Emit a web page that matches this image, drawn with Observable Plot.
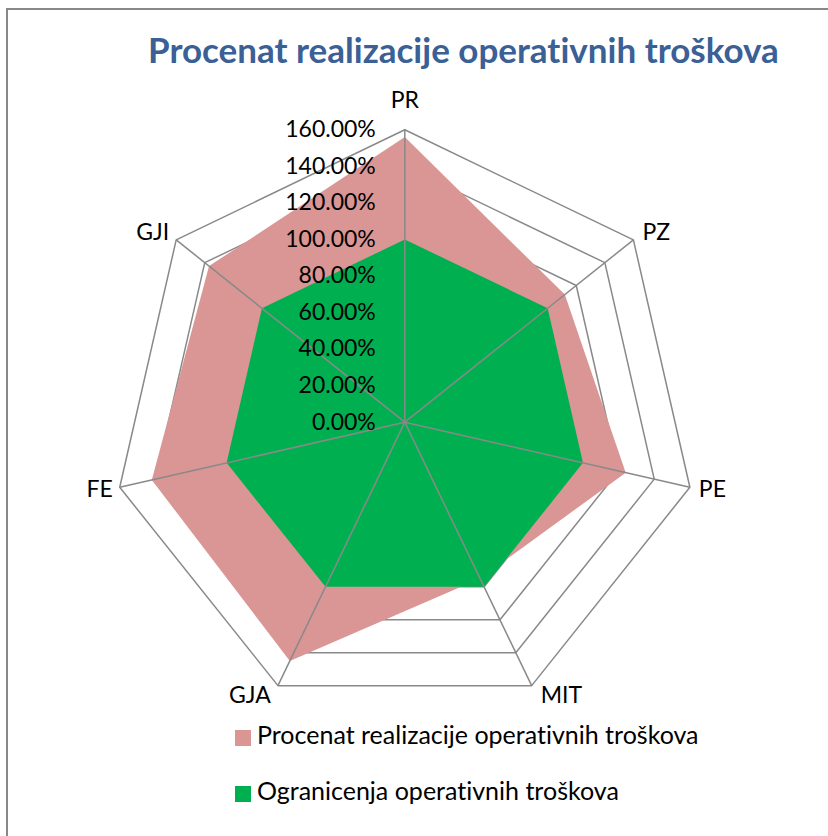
<!DOCTYPE html>
<html>
<head>
<meta charset="utf-8">
<script src="https://cdn.jsdelivr.net/npm/d3@7"></script>
<script src="https://cdn.jsdelivr.net/npm/@observablehq/plot@0.6"></script>
<style>
  html, body { margin: 0; padding: 0; background: #fff; }
  #wrap { position: relative; width: 828px; height: 836px; overflow: hidden; font-family: Lato, "Open Sans", sans-serif; font-variant-ligatures: none; }
  #frame { position: absolute; left: 6px; top: 8px; width: 900px; height: 900px; border-top: 2px solid #888; border-left: 2px solid #888; }
  #chart { position: absolute; left: 0; top: 0; }
  #chart svg text { font-variant-ligatures: none; }
  #title { position: absolute; left: 148px; top: 32px; font-size: 35px; line-height: 1; font-weight: bold; color: #3A6096; white-space: nowrap; }
  .leg { position: absolute; left: 235px; font-size: 25px; line-height: 1; color: #000; white-space: nowrap; }
  .leg span.sw { position: absolute; left: 0; width: 16px; height: 16px; }
  .leg span.tx { position: absolute; left: 22px; }
</style>
</head>
<body>
<div id="wrap">
  <div id="frame"></div>
  <div id="chart"></div>
  <div id="title">Procenat realizacije operativnih troškova</div>
  <div id="legend"></div>
</div>
<script>
// ---- data ----
const categories = ["PR", "PZ", "PE", "MIT", "GJA", "FE", "GJI"];
const realizacija = [156, 112, 124, 95, 145, 142, 137];   // Procenat realizacije operativnih troškova (%)
const ogranicenja = [100, 100, 100, 100, 100, 100, 100];  // Ogranicenja operativnih troškova (%)
const tickValues = [0, 20, 40, 60, 80, 100, 120, 140, 160];
const tickLabels = ["0.00%", "20.00%", "40.00%", "60.00%", "80.00%", "100.00%", "120.00%", "140.00%", "160.00%"];
const seriesNames = ["Procenat realizacije operativnih troškova", "Ogranicenja operativnih troškova"];
const seriesColors = ["#D99694", "#00B050"];

// ---- layout ----
const W = 828, H = 836;
const cx = 404.3, cy = 421.7, R = 292.4, maxV = 160;
const k = R / maxV;
const n = categories.length;
const ang = i => i * 2 * Math.PI / n;
const pt = (v, i) => ({x: v * Math.sin(ang(i)), y: v * Math.cos(ang(i))});

const closed = arr => [...arr, arr[0]];
const polyOf = vals => closed(vals.map((v, i) => pt(v, i)));
const gridData = tickValues.filter(v => v > 0).flatMap(v =>
  closed(categories.map((c, i) => ({...pt(v, i), level: v}))));
const spokes = categories.map((c, i) => ({name: c, ...pt(maxV, i), a: ang(i)}));
const ticks = tickValues.map((v, j) => ({x: 0, y: v, label: tickLabels[j]}));

const fontFam = "Lato, 'Open Sans', sans-serif";
const labelMarks = spokes.map(s => {
  const sn = Math.sin(s.a), cs = Math.cos(s.a);
  const anchor = sn > 0.01 ? "start" : sn < -0.01 ? "end" : "middle";
  const dx = sn > 0.01 ? 9 : sn < -0.01 ? -7 : 0;
  const dy = cs > 0.99 ? -29 : -cs * 11;
  return Plot.text([s], {x: "x", y: "y", text: "name", textAnchor: anchor, dx, dy,
    fontSize: 23, fill: "#000", fontFamily: fontFam});
});

const chart = Plot.plot({
  width: W, height: H,
  marginTop: 0, marginRight: 0, marginBottom: 0, marginLeft: 0,
  style: {background: "transparent", fontFamily: fontFam},
  x: {domain: [-cx / k, (W - cx) / k], axis: null},
  y: {domain: [-(H - cy) / k, cy / k], axis: null},
  marks: [
    Plot.line(gridData, {x: "x", y: "y", z: "level", stroke: "#898989", strokeWidth: 1.5, curve: "linear"}),
    Plot.line(polyOf(realizacija), {x: "x", y: "y", fill: seriesColors[0], stroke: "none", curve: "linear-closed"}),
    Plot.line(polyOf(ogranicenja), {x: "x", y: "y", fill: seriesColors[1], stroke: "none", curve: "linear-closed"}),
    Plot.link(spokes, {x1: 0, y1: 0, x2: "x", y2: "y", stroke: "#898989", strokeWidth: 1.5}),
    Plot.text(ticks, {x: "x", y: "y", text: "label", textAnchor: "end", dx: -29, fontSize: 23, fill: "#000", fontFamily: fontFam}),
    ...labelMarks
  ]
});
document.getElementById("chart").appendChild(chart);

// legend
const legendTops = [722, 778];
const leg = document.getElementById("legend");
seriesNames.forEach((name, i) => {
  const d = document.createElement("div");
  d.className = "leg";
  d.style.top = legendTops[i] + "px";
  d.innerHTML = `<span class="sw" style="background:${seriesColors[i]};top:8px"></span><span class="tx">${name}</span>`;
  leg.appendChild(d);
});
</script>
</body>
</html>
